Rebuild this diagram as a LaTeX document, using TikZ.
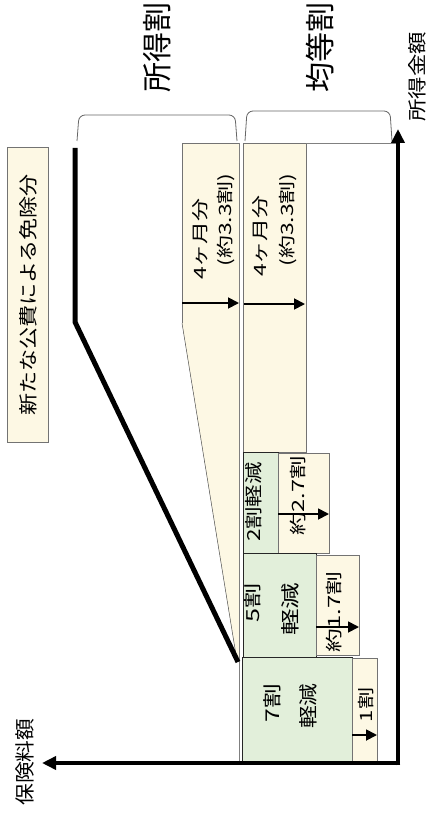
\documentclass[tikz,border=0pt]{standalone}
\usepackage{fontspec}
\setmainfont{Noto Sans CJK JP}
\usepackage{graphicx}
\usetikzlibrary{arrows.meta}
\definecolor{cream}{HTML}{FDF8E4}
\definecolor{mint}{HTML}{E2EFDA}
\newcommand{\sx}[2]{\scalebox{#1}[1]{#2}}
\newcommand{\fs}[1]{\fontsize{#1}{#1}\selectfont}
\begin{document}
\begin{tikzpicture}[x=1pt,y=-1pt,
  ybox/.style={draw=black!55, fill=cream, line width=0.6pt},
  gbox/.style={draw=black!85, fill=mint, line width=1pt},
  lbl/.style={rotate=90, inner sep=0pt, anchor=center},
  harrow/.style={line width=1.8pt, -{Triangle[length=11pt,width=11pt]}},
  axisline/.style={line width=4.5pt, -{Triangle[length=14pt,width=13pt]}},
  bracket/.style={draw=black!60, line width=0.8pt, rounded corners=6pt}
]
\useasboundingbox (0,0) rectangle (426,821);

% boxes
\path[ybox] (182,143) rectangle (239,323);
\path[fill=cream] (182,323) -- (239,323) -- (239,661) -- (237,661) -- cycle;
\draw[black!70, line width=0.5pt] (182,323) -- (237,661);
\draw[black!50, line width=0.6pt] (239,143) -- (239,762);
\path[ybox] (243,143) rectangle (306,452);
\draw[black!50, line width=0.6pt] (306,143) -- (396,143);
\path[gbox] (243,452) rectangle (278,553);
\path[ybox] (278,453) rectangle (329,553);
\path[gbox] (243,553) rectangle (316,657);
\path[ybox] (316,555) rectangle (359,655);
\path[gbox] (242,657) rectangle (352,762);
\path[ybox] (352,658) rectangle (377,762);
\path[ybox] (7,147) rectangle (48,442);

% brackets
\draw[bracket] (77,141) -- (79,115) -- (235,115) -- (237,141);
\draw[bracket] (245,141) -- (247,111) -- (390,111) -- (392,141);

% thick boundary line
\draw[line width=5pt, line join=miter] (75,148) -- (75,322) -- (238,662);

% axes
\coordinate (O) at (398,763);
\coordinate (Ytip) at (398,129);
\coordinate (Xtip) at (42,763);
\draw[axisline] (398,765.25) -- (Ytip);
\draw[axisline] (400.25,763) -- (Xtip);

% arrows in boxes
\draw[harrow] (182,303) -- (239,303);
\draw[harrow] (244,304) -- (305,304);
\draw[harrow] (278,514) -- (329,514);
\draw[harrow] (316,627) -- (359,627);
\draw[harrow] (352,735) -- (377,735);

% labels
\node[lbl, font=\fs{30}] (shotoku) at (157,48) {所得割};
\node[lbl, font=\fs{30}] (kinto) at (320,48) {均等割};
\node[lbl, font=\fs{19}] (xlab) at (417,77) {\sx{1.18}{所得金額}};
\node[lbl, font=\fs{20}] (ylab) at (25,762) {\sx{1.09}{保険料額}};
\node[lbl, font=\fs{19}] (kohi) at (28,295) {\sx{1.16}{新たな公費による免除分}};

\node[lbl, font=\fs{17}] (l4a) at (200,239) {\sx{1.35}{4ヶ月分}};
\node[lbl, font=\fs{17}] (l4b) at (226,220) {\sx{1.35}{(約3.3割)}};
\node[lbl, font=\fs{17}] (r4a) at (260,236) {\sx{1.35}{4ヶ月分}};
\node[lbl, font=\fs{17}] (r4b) at (288,220) {\sx{1.35}{(約3.3割)}};

\node[lbl, font=\fs{18}] (g2) at (254,502) {\sx{1.25}{2割軽減}};
\node[lbl, font=\fs{17}] (y27) at (298,496) {\sx{1.38}{約2.7割}};
\node[lbl, font=\fs{18}] (g5a) at (253,603) {\sx{1.4}{5割}};
\node[lbl, font=\fs{19}] (g5b) at (290,609) {\sx{1.4}{軽減}};
\node[lbl, font=\fs{17}] (y17) at (334,612) {\sx{1.4}{約1.7割}};
\node[lbl, font=\fs{19}] (g7a) at (272,703) {\sx{1.3}{7割}};
\node[lbl, font=\fs{19}] (g7b) at (308,706) {\sx{1.2}{軽減}};
\node[lbl, font=\fs{17}] (y1) at (366,705) {\sx{1.3}{1割}};
\end{tikzpicture}
\end{document}
